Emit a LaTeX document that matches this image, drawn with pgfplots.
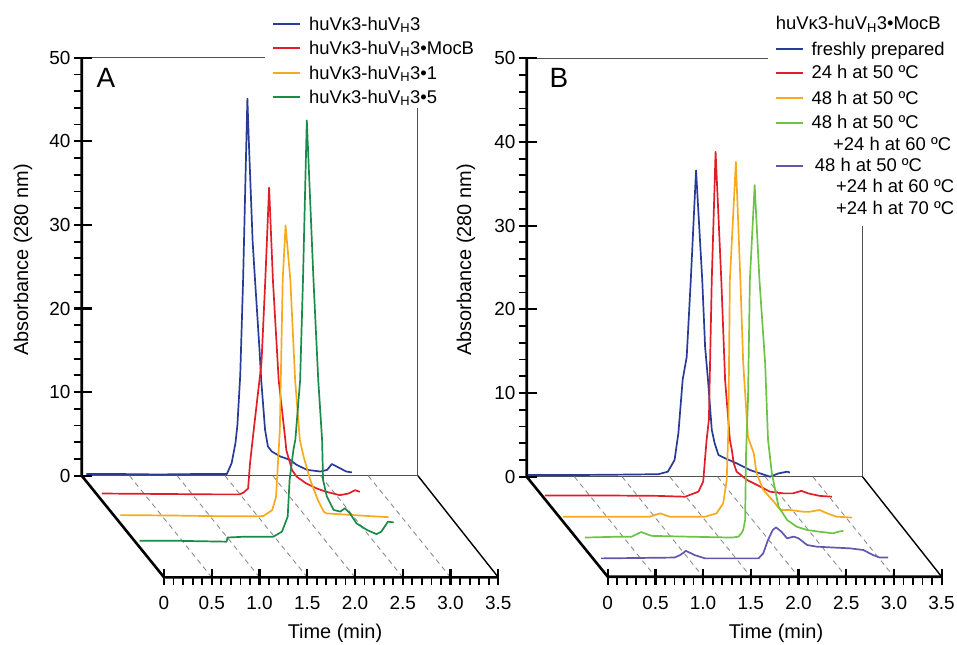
\documentclass[border=0pt]{standalone}
\usepackage{pgfplots}
\pgfplotsset{compat=1.18}
\usepackage{pgfplotstable}
\usepackage{fontspec}
\setmainfont{Liberation Sans}
\definecolor{cblue}{RGB}{40,60,150}
\definecolor{cred}{RGB}{225,30,40}
\definecolor{corange}{RGB}{247,170,30}
\definecolor{cgreenA}{RGB}{25,140,75}
\definecolor{cgreenB}{RGB}{110,195,70}
\definecolor{cpurple}{RGB}{100,85,175}
\definecolor{cframe}{RGB}{80,80,80}
\definecolor{cdash}{RGB}{140,140,140}
\newcommand\tickfont{\fontsize{19}{22}\selectfont}
\newcommand\labfont{\fontsize{20}{24}\selectfont}
\newcommand\legfont{\fontsize{18.5}{22}\selectfont}
\newcommand\panfont{\fontsize{28}{32}\selectfont}

\pgfplotsset{
  wf/.style={hide axis, clip=false, anchor=origin, xmin=0, xmax=3.52, ymin=0, ymax=1, zmin=0, zmax=50},
  curve/.style={line width=1.7bp, line join=round, no marks},
  thinframe/.style={cframe, line width=1bp, no marks},
  thickax/.style={black, line width=2.6bp, no marks},
  depthdash/.style={cdash, line width=0.9bp, dash pattern=on 5bp off 4bp, no marks},
}
% ticks of one panel (drawn inside the axis)
\newcommand\paneticks{%
  \pgfplotsinvokeforeach{0,0.5,1.0,1.5,2.0,2.5,3.0,3.5}{%
    \draw[black, line width=2.2bp] ([yshift=8bp]axis cs:##1,1,0) -- ([yshift=-8bp]axis cs:##1,1,0);}
  \pgfplotsinvokeforeach{0.1,0.2,0.3,0.4,0.6,0.7,0.8,0.9,1.1,1.2,1.3,1.4,1.6,1.7,1.8,1.9,2.1,2.2,2.3,2.4,2.6,2.7,2.8,2.9,3.1,3.2,3.3,3.4}{%
    \draw[black, line width=1.8bp] (axis cs:##1,1,0) -- ([yshift=-8bp]axis cs:##1,1,0);}
  \pgfplotsinvokeforeach{0,10,20,30,40,50}{%
    \draw[black, line width=2.2bp] ([xshift=-8bp]axis cs:0,0,##1) -- ([xshift=10bp]axis cs:0,0,##1);
    \node[anchor=east, font=\tickfont, inner sep=0pt, xshift=-11bp] at (axis cs:0,0,##1) {##1};}
  \pgfplotsinvokeforeach{2,4,6,8,12,14,16,18,22,24,26,28,32,34,36,38,42,44,46,48}{%
    \draw[black, line width=1.8bp] ([xshift=-8bp]axis cs:0,0,##1) -- (axis cs:0,0,##1);}
  \node[font=\tickfont, inner sep=0pt, yshift=-26bp] at (axis cs:0,1,0) {0};
  \node[font=\tickfont, inner sep=0pt, yshift=-26bp] at (axis cs:0.5,1,0) {0.5};
  \node[font=\tickfont, inner sep=0pt, yshift=-26bp] at (axis cs:1.0,1,0) {1.0};
  \node[font=\tickfont, inner sep=0pt, yshift=-26bp] at (axis cs:1.5,1,0) {1.5};
  \node[font=\tickfont, inner sep=0pt, yshift=-26bp] at (axis cs:2.0,1,0) {2.0};
  \node[font=\tickfont, inner sep=0pt, yshift=-26bp] at (axis cs:2.5,1,0) {2.5};
  \node[font=\tickfont, inner sep=0pt, yshift=-26bp] at (axis cs:3.0,1,0) {3.0};
  \node[font=\tickfont, inner sep=0pt, yshift=-26bp] at (axis cs:3.5,1,0) {3.5};
}

% ---------- Panel A data (time in min, absorbance relative to own baseline)
\pgfplotstableread{
t a
0.05 0.2
0.40 0.2
0.80 0.15
1.20 0.2
1.52 0.2
1.57 1.5
1.61 3.9
1.63 6.0
1.66 12
1.69 23.4
1.72 38
1.735 45.1
1.75 40
1.79 28
1.815 23.4
1.86 15.4
1.88 11.4
1.92 5.5
1.95 3.5
1.99 2.9
2.08 2.3
2.18 1.9
2.25 1.3
2.36 0.7
2.50 0.5
2.57 0.7
2.62 1.4
2.67 1.1
2.77 0.5
2.83 0.4
}\Ablue
\pgfplotstableread{
t a
0.04 0.3
0.60 0.25
1.20 0.2
1.48 0.2
1.52 0.4
1.57 0.9
1.59 3.9
1.62 7.0
1.66 11
1.71 15.9
1.75 25.8
1.79 36.9
1.83 25.8
1.89 13.9
1.96 6.7
1.97 5.5
2.03 3.1
2.08 2.3
2.18 1.5
2.29 0.9
2.39 0.5
2.53 0.1
2.62 0.3
2.69 0.7
2.74 0.5
}\Ared
\pgfplotstableread{
t a
0.06 0.15
0.60 0.1
1.20 0.0
1.52 0.0
1.56 0.05
1.65 0.75
1.69 2.3
1.71 6.3
1.73 10.3
1.76 28.3
1.79 34.8
1.84 28.3
1.89 16.3
1.94 9.1
1.98 7.1
2.05 4.3
2.13 1.9
2.19 0.55
2.22 0.35
2.64 0.05
2.87 -0.1
}\Aorange
\pgfplotstableread{
t a
0.09 -0.5
0.50 -0.5
1.00 -0.6
1.01 -0.1
1.20 0.0
1.49 0.0
1.58 0.6
1.64 2.4
1.66 6.8
1.70 10.4
1.72 11.6
1.77 18.7
1.80 30.7
1.84 49.8
1.91 30.7
1.96 18.7
2.00 11.6
2.01 6.8
2.05 4.8
2.12 3.2
2.19 3.0
2.24 3.4
2.29 2.8
2.36 1.6
2.47 0.8
2.57 0.3
2.62 0.6
2.69 1.8
2.75 1.7
}\Agreen

% ---------- Panel B data
\pgfplotstableread{
t a
0.01 0.2
0.50 0.2
1.00 0.25
1.38 0.3
1.48 0.6
1.55 2.0
1.59 5.2
1.635 11.6
1.677 14.3
1.72 23.5
1.775 36.6
1.84 23.5
1.87 15.5
1.90 11.6
1.94 5.6
1.97 4.0
2.01 2.6
2.08 2.2
2.20 1.6
2.34 0.8
2.55 0.0
2.64 0.4
2.73 0.6
2.76 0.5
}\Bblue
\pgfplotstableread{
t a
0.02 0.15
0.60 0.15
1.20 0.1
1.49 0.0
1.63 0.6
1.68 1.8
1.716 6.8
1.74 9.2
1.77 25.9
1.81 41.2
1.87 25.9
1.91 13.9
1.96 6.8
1.98 5.6
2.00 4.0
2.03 3.0
2.14 2.0
2.28 1.2
2.38 0.6
2.52 0.4
2.62 0.4
2.71 0.7
2.78 0.4
2.90 0.1
3.03 0.0
}\Bred
\pgfplotstableread{
t a
0.04 0.0
0.50 0.0
0.95 0.0
1.06 0.4
1.16 0.0
1.53 0.0
1.65 0.4
1.72 1.6
1.757 4.4
1.774 10.4
1.79 28.3
1.853 42.4
1.90 28.3
1.93 18.3
1.98 9.5
2.04 7.6
2.07 5.2
2.14 3.2
2.25 1.8
2.32 0.8
2.42 0.8
2.56 0.6
2.63 0.6
2.73 0.8
2.81 0.4
2.91 0.0
3.07 -0.1
}\Borange
\pgfplotstableread{
t a
0.10 -0.1
0.45 0.0
0.59 0.0
0.69 0.56
0.80 0.1
1.20 0.0
1.64 -0.1
1.71 0.0
1.74 0.4
1.76 0.8
1.78 2.0
1.79 10
1.81 16.3
1.83 30.7
1.88 42.0
1.93 30.7
1.99 20.7
2.02 11.6
2.06 7.6
2.13 3.6
2.22 2.0
2.32 1.2
2.43 0.8
2.56 0.6
2.70 0.4
2.76 0.6
2.81 0.7
}\Bgreen
\pgfplotstableread{
t a
0.10 -0.2
0.50 -0.15
0.87 -0.1
0.93 0.2
0.99 0.7
1.08 0.2
1.19 -0.2
1.50 -0.2
1.75 -0.2
1.80 0.4
1.85 2.0
1.90 3.2
1.934 3.5
1.99 3.0
2.05 2.2
2.12 2.4
2.17 2.2
2.26 1.4
2.36 1.2
2.53 1.1
2.71 1.0
2.85 0.8
2.95 0.2
3.02 -0.1
3.11 -0.1
}\Bpurple

\begin{document}
\begin{tikzpicture}
\useasboundingbox (0bp,0bp) rectangle (957bp,-645bp);

% ================= Panel A =================
\begin{axis}[wf, at={(81.7bp,-475.7bp)},
  x={(95.5bp,0bp)}, y={(82.3bp,-101.6bp)}, z={(0bp,8.36bp)}]
  \addplot3[thinframe] coordinates {(0,0,50) (1.92,0,50)};
  \addplot3[thinframe] coordinates {(0,0,0) (3.52,0,0) (3.52,0,44)};
  \addplot3[black, line width=1.4bp, no marks] coordinates {(3.52,0,0) (3.5,1,0)};
  \addplot3[depthdash] coordinates {(0.5,0,0) (0.5,1,0)};
  \addplot3[depthdash] coordinates {(1.0,0,0) (1.0,1,0)};
  \addplot3[depthdash] coordinates {(1.5,0,0) (1.5,1,0)};
  \addplot3[depthdash] coordinates {(2.0,0,0) (2.0,1,0)};
  \addplot3[depthdash] coordinates {(2.5,0,0) (2.5,1,0)};
  \addplot3[depthdash] coordinates {(3.0,0,0) (3.0,1,0)};
  \addplot3[thickax] coordinates {(0,0,50) (0,0,0) (0,1,0) (3.5,1,0)};
  \paneticks
  \addplot3[curve, cblue] table[x=t, y expr=0, z=a] {\Ablue};
  \addplot3[curve, cred] table[x=t, y expr=0.2, z=a] {\Ared};
  \addplot3[curve, corange] table[x=t, y expr=0.4, z=a] {\Aorange};
  \addplot3[curve, cgreenA] table[x=t, y expr=0.6, z=a] {\Agreen};
\end{axis}

% ================= Panel B =================
\begin{axis}[wf, at={(526.7bp,-476.7bp)},
  x={(95.4bp,0bp)}, y={(81bp,-100bp)}, z={(0bp,8.37bp)}]
  \addplot3[thinframe] coordinates {(0,0,50) (2.53,0,50)};
  \addplot3[thinframe] coordinates {(0,0,0) (3.52,0,0) (3.52,0,29.9)};
  \addplot3[black, line width=1.4bp, no marks] coordinates {(3.52,0,0) (3.5,1,0)};
  \addplot3[depthdash] coordinates {(0.5,0,0) (0.5,1,0)};
  \addplot3[depthdash] coordinates {(1.0,0,0) (1.0,1,0)};
  \addplot3[depthdash] coordinates {(1.5,0,0) (1.5,1,0)};
  \addplot3[depthdash] coordinates {(2.0,0,0) (2.0,1,0)};
  \addplot3[depthdash] coordinates {(2.5,0,0) (2.5,1,0)};
  \addplot3[depthdash] coordinates {(3.0,0,0) (3.0,1,0)};
  \addplot3[thickax] coordinates {(0,0,50) (0,0,0) (0,1,0) (3.5,1,0)};
  \paneticks
  \addplot3[curve, cblue] table[x=t, y expr=0, z=a] {\Bblue};
  \addplot3[curve, cred] table[x=t, y expr=0.2, z=a] {\Bred};
  \addplot3[curve, corange] table[x=t, y expr=0.4, z=a] {\Borange};
  \addplot3[curve, cgreenB] table[x=t, y expr=0.6, z=a] {\Bgreen};
  \addplot3[curve, cpurple] table[x=t, y expr=0.8, z=a] {\Bpurple};
\end{axis}

% ================= labels =================
\node[font=\labfont, rotate=90] at (23bp,-260bp) {Absorbance (280 nm)};
\node[font=\labfont, rotate=90] at (466bp,-260bp) {Absorbance (280 nm)};
\node[font=\labfont] at (335bp,-633bp) {Time (min)};
\node[font=\labfont] at (776bp,-633bp) {Time (min)};
\node[font=\panfont] at (106bp,-78bp) {A};
\node[font=\panfont] at (559bp,-78bp) {B};

% legend A
\draw[cblue, line width=2bp] (273bp,-24bp) -- (300bp,-24bp);
\draw[cred, line width=2bp] (273bp,-48bp) -- (300bp,-48bp);
\draw[corange, line width=2bp] (273bp,-73bp) -- (300bp,-73bp);
\draw[cgreenA, line width=2bp] (273bp,-97bp) -- (300bp,-97bp);
\node[anchor=base west, inner sep=0pt, font=\legfont] at (309bp,-30bp) {huVκ3-huV\textsubscript{H}3};
\node[anchor=base west, inner sep=0pt, font=\legfont] at (309bp,-54bp) {huVκ3-huV\textsubscript{H}3•MocB};
\node[anchor=base west, inner sep=0pt, font=\legfont] at (309bp,-79bp) {huVκ3-huV\textsubscript{H}3•1};
\node[anchor=base west, inner sep=0pt, font=\legfont] at (309bp,-103bp) {huVκ3-huV\textsubscript{H}3•5};

% legend B
\node[anchor=base west, inner sep=0pt, font=\legfont] at (775.7bp,-29.3bp) {huVκ3-huV\textsubscript{H}3•MocB};
\draw[cblue, line width=2bp] (775.7bp,-49.3bp) -- (803bp,-49.3bp);
\draw[cred, line width=2bp] (775.7bp,-72.7bp) -- (803bp,-72.7bp);
\draw[corange, line width=2bp] (775.7bp,-98.3bp) -- (803bp,-98.3bp);
\draw[cgreenB, line width=2bp] (775.7bp,-122.7bp) -- (803bp,-122.7bp);
\draw[cpurple, line width=2bp] (775.7bp,-165.7bp) -- (803bp,-165.7bp);
\node[anchor=base west, inner sep=0pt, font=\legfont] at (811.3bp,-55.3bp) {freshly prepared};
\node[anchor=base west, inner sep=0pt, font=\legfont] at (811.3bp,-78.7bp) {24 h at 50 ºC};
\node[anchor=base west, inner sep=0pt, font=\legfont] at (811.3bp,-104.3bp) {48 h at 50 ºC};
\node[anchor=base west, inner sep=0pt, font=\legfont] at (811.3bp,-128.7bp) {48 h at 50 ºC};
\node[anchor=base west, inner sep=0pt, font=\legfont] at (833bp,-150bp) {+24 h at 60 ºC};
\node[anchor=base west, inner sep=0pt, font=\legfont] at (814.7bp,-171.7bp) {48 h at 50 ºC};
\node[anchor=base west, inner sep=0pt, font=\legfont] at (836bp,-192.7bp) {+24 h at 60 ºC};
\node[anchor=base west, inner sep=0pt, font=\legfont] at (836bp,-214.3bp) {+24 h at 70 ºC};
\end{tikzpicture}
\end{document}
